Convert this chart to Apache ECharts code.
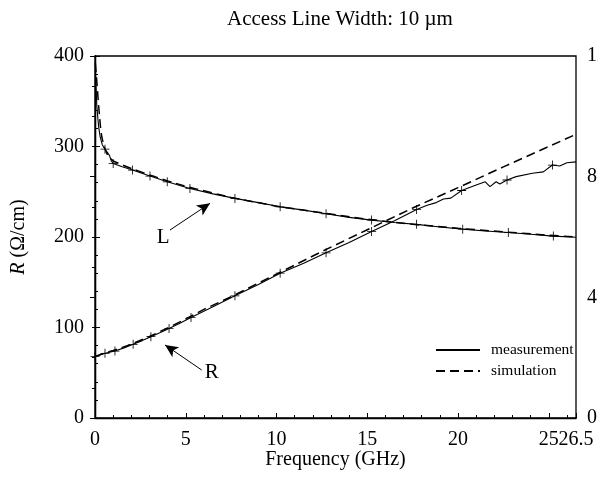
<!DOCTYPE html>
<html>
<head>
<meta charset="utf-8">
<script src="https://cdn.jsdelivr.net/npm/echarts@6/dist/echarts.min.js"></script>
<style>html,body{margin:0;padding:0;background:#fff;overflow:hidden}#c{width:598px;height:496px}</style>
</head>
<body>
<div id="c"></div>
<script>
// ---- data (frequency in GHz) ----
const titleText = 'Access Line Width: 10 \u00b5m';
const xTicks = [0, 5, 10, 15, 20, 25];
const xEndTick = 26.5;
const leftTicks = [0, 100, 200, 300, 400];
const rightTicks = [0, 4, 8, 12];

// R measurement (Ohm/cm), left axis
const fRmeas = [0, 0.1, 0.3, 0.55, 1.1, 1.6, 2.1, 2.6, 3.08, 3.6, 4.08, 4.7, 5.29, 6.5, 7.71, 9, 10.2, 11.5, 12.73, 14, 15.24, 16.5, 17.72, 18.3, 18.8, 19.2, 19.6, 20.2, 21.0, 21.5, 21.76, 22.1, 22.3, 22.7, 23.2, 24.1, 24.7, 25.2, 25.6, 26.0, 26.5];
const Rmeas  = [67.8, 68.5, 70, 71.5, 74, 77.5, 81.4, 85.5, 89.9, 94.5, 99, 105, 111, 123, 135, 147.5, 160, 171, 182.5, 194, 206, 218, 230.5, 235, 238, 242, 243, 251.4, 257.5, 261, 255.6, 261, 258.6, 263, 266.7, 270.4, 272, 279.5, 278.5, 282, 283];
// R simulation
const fRsim = [0, 0.5, 1, 2, 3, 4, 5, 6, 7.5, 10, 12.5, 15, 17.5, 20, 22.5, 25, 26.5];
const Rsim  = [68, 71.5, 74.5, 81.5, 90, 99.5, 109.5, 120, 134, 159, 184, 208, 232, 254.5, 277.5, 300, 313.5];

// L measurement, right axis
const fLmeas = [0.02, 0.05, 0.1, 0.15, 0.2, 0.28, 0.4, 0.55, 0.7, 0.8, 0.9, 1.0, 1.5, 2.07, 2.5, 3.03, 3.98, 5.23, 6.5, 7.71, 9, 10.2, 11.5, 12.73, 14, 15.24, 16.5, 17.72, 19, 20.26, 21.5, 22.77, 24, 25.25, 26.5];
const Lmeas  = [11.52, 11.1, 10.35, 9.99, 9.66, 9.33, 9.06, 8.91, 8.79, 8.70, 8.52, 8.44, 8.33, 8.22, 8.13, 8.02, 7.83, 7.61, 7.43, 7.28, 7.14, 7.0, 6.89, 6.77, 6.65, 6.56, 6.48, 6.42, 6.33, 6.26, 6.2, 6.15, 6.09, 6.03, 5.99];
// L simulation
const fLsim = [0.02, 0.1, 0.2, 0.3, 0.37, 0.5, 0.7, 1.0, 1.5, 2, 3, 4, 5, 7.5, 10, 12.5, 15, 17.5, 20, 22.5, 25, 26.5];
const Lsim  = [11.76, 11.16, 10.35, 9.66, 9.33, 9.0, 8.7, 8.52, 8.39, 8.27, 8.06, 7.86, 7.68, 7.31, 7.02, 6.8, 6.59, 6.42, 6.29, 6.17, 6.06, 6.0];

// "+" marker frequencies on the measurement curves
const RmarkF = [0, 0.55, 1.1, 2.1, 3.08, 4.08, 5.29, 7.71, 10.2, 12.73, 15.24, 17.72, 20.2, 22.7, 25.2];
const LmarkF = [0.55, 1.0, 2.07, 3.03, 3.98, 5.23, 7.71, 10.2, 12.73, 15.24, 17.72, 20.26, 22.77, 25.25];

// annotations (data units, left axis)
const annL = {text: 'L', at: [3.75, 200], from: [4.13, 207.7], to: [6.34, 237.2]};
const annR = {text: 'R', at: [6.43, 50.3], from: [5.88, 53], to: [3.86, 80.7]};

// ---- chart ----
const FONT = 'Liberation Serif';
const plus = 'path://M-0.45,-5L0.45,-5L0.45,-0.45L5,-0.45L5,0.45L0.45,0.45L0.45,5L-0.45,5L-0.45,0.45L-5,0.45L-5,-0.45L-0.45,-0.45Z';

function build(fs, vs, marks) {
  return fs.map((f, i) => {
    const item = {value: [f, vs[i]]};
    if (marks && marks.indexOf(f) >= 0) { item.symbol = plus; item.symbolSize = 9; }
    return item;
  });
}

const chart = echarts.init(document.getElementById('c'), null, {renderer: 'canvas'});
const axisCommon = {
  axisLine: {show: true, lineStyle: {color: '#000', width: 1.3}},
  axisTick: {show: true, inside: true, length: 5, lineStyle: {color: '#000'}},
  minorTick: {show: true, length: 3, lineStyle: {color: '#000'}},
  splitLine: {show: false},
  axisLabel: {color: '#000', fontFamily: FONT, fontSize: 20, margin: 11, hideOverlap: false}
};

chart.setOption({
  animation: false,
  backgroundColor: '#fff',
  title: {text: titleText, left: 335, textAlign: 'center', top: 4,
    textStyle: {fontFamily: FONT, fontSize: 21, fontWeight: 'normal', color: '#000'}},
  grid: {left: 95, right: 22, top: 56, bottom: 78, outerBoundsMode: 'none', containLabel: false,
    show: true, borderColor: '#000', borderWidth: 1.3, backgroundColor: 'transparent'},
  legend: {
    data: ['measurement', 'simulation'], orient: 'vertical', left: 430, top: 337,
    itemWidth: 44, itemHeight: 12, itemGap: 5,
    itemStyle: {opacity: 0},
    textStyle: {fontFamily: FONT, fontSize: 15.5, color: '#000', padding: [0, 0, 0, 6]}
  },
  xAxis: [
    Object.assign({}, axisCommon, {
      type: 'value', min: 0, max: 26.5, interval: 5, position: 'bottom',
      minorTick: {show: true, splitNumber: 5, length: 3, lineStyle: {color: '#000'}},
      axisLabel: Object.assign({}, axisCommon.axisLabel, {margin: 12, showMaxLabel: true,
        formatter: v => (xTicks.indexOf(v) >= 0 ? String(v) : '')}),
      name: 'Frequency (GHz)', nameLocation: 'middle', nameGap: 32, nameMoveOverlap: false,
      nameTextStyle: {fontFamily: FONT, fontSize: 20, color: '#000'}
    }),
    {
      type: 'value', min: 0, max: 26.5, interval: 5, position: 'bottom', offset: 0,
      axisLine: {show: false}, axisTick: {show: false}, minorTick: {show: false}, splitLine: {show: false},
      axisLabel: {color: '#000', fontFamily: FONT, fontSize: 20, margin: 12, hideOverlap: false, showMaxLabel: true,
        formatter: v => (v === xEndTick ? String(v) : '')}
    }
  ],
  yAxis: [
    Object.assign({}, axisCommon, {
      type: 'value', min: 0, max: 400, interval: 100, position: 'left',
      minorTick: {show: true, splitNumber: 5, length: 3, lineStyle: {color: '#000'}},
      axisLabel: Object.assign({}, axisCommon.axisLabel, {formatter: v => (leftTicks.indexOf(v) >= 0 ? String(v) : '')}),
      name: '{i|R} (\u03a9/cm)', nameLocation: 'middle', nameGap: 66, nameMoveOverlap: false,
      nameTextStyle: {fontFamily: FONT, fontSize: 20, color: '#000',
        rich: {i: {fontFamily: FONT, fontSize: 20, fontStyle: 'italic', color: '#000'}}}
    }),
    Object.assign({}, axisCommon, {
      type: 'value', min: 0, max: 12, interval: 4, position: 'right',
      minorTick: {show: true, splitNumber: 4, length: 3, lineStyle: {color: '#000'}},
      axisLabel: Object.assign({}, axisCommon.axisLabel, {formatter: v => (rightTicks.indexOf(v) >= 0 ? String(v) : '')})
    })
  ],
  series: [
    {name: 'measurement', type: 'line', xAxisIndex: 0, yAxisIndex: 0, data: build(fRmeas, Rmeas, RmarkF),
      symbol: 'none', showSymbol: true, itemStyle: {color: '#000'},
      lineStyle: {color: '#000', width: 1.1}, z: 3,
      markLine: {silent: true, symbol: ['none', 'arrow'], symbolSize: [9, 13],
        lineStyle: {color: '#000', width: 1, type: 'solid'}, label: {show: false},
        data: [[{coord: annR.from}, {coord: annR.to}]]},
      markPoint: {silent: true, symbol: 'circle', symbolSize: 1, itemStyle: {color: 'transparent'},
        label: {show: true, position: 'inside', color: '#000', fontFamily: FONT, fontSize: 21, formatter: p => p.name},
        data: [{name: annR.text, coord: annR.at}, {name: annL.text, coord: annL.at}]}
    },
    {name: 'simulation', type: 'line', xAxisIndex: 0, yAxisIndex: 0, data: build(fRsim, Rsim),
      symbol: 'none', itemStyle: {color: '#000'},
      lineStyle: {color: '#000', width: 1.5, type: [9, 5]}, z: 2},
    {name: 'measurement', type: 'line', xAxisIndex: 0, yAxisIndex: 1, data: build(fLmeas, Lmeas, LmarkF),
      symbol: 'none', showSymbol: true, itemStyle: {color: '#000'},
      lineStyle: {color: '#000', width: 1.1}, z: 3,
      markLine: {silent: true, symbol: ['none', 'arrow'], symbolSize: [9, 13],
        lineStyle: {color: '#000', width: 1, type: 'solid'}, label: {show: false},
        data: [[{coord: [annL.from[0], annL.from[1] * 0.03]}, {coord: [annL.to[0], annL.to[1] * 0.03]}]]}
    },
    {name: 'simulation', type: 'line', xAxisIndex: 0, yAxisIndex: 1, data: build(fLsim, Lsim),
      symbol: 'none', itemStyle: {color: '#000'},
      lineStyle: {color: '#000', width: 1.5, type: [9, 5]}, z: 2}
  ]
});
</script>
</body>
</html>
